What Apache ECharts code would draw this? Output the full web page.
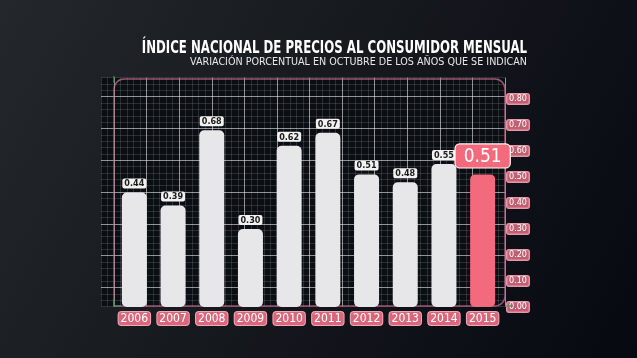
<!DOCTYPE html>
<html><head><meta charset="utf-8">
<script src="https://cdn.jsdelivr.net/npm/echarts@6/dist/echarts.min.js"></script>
<style>html,body{margin:0;padding:0;background:#111;}#c{width:637px;height:358px;}</style>
</head><body><div id="c"></div>
<script>
// ---- data ----
const titleText = 'ÍNDICE NACIONAL DE PRECIOS AL CONSUMIDOR MENSUAL';
const subtitleText = 'VARIACIÓN PORCENTUAL EN OCTUBRE DE LOS AÑOS QUE SE INDICAN';
const years = ['2006','2007','2008','2009','2010','2011','2012','2013','2014','2015'];
const values = [0.44, 0.39, 0.68, 0.30, 0.62, 0.67, 0.51, 0.48, 0.55, 0.51];
const highlightYear = '2015';
const yTickLabels = ['0.00','0.10','0.20','0.30','0.40','0.50','0.60','0.70','0.80'];

// ---- styling ----
const FONT = "'DejaVu Sans Condensed','Liberation Sans Narrow',sans-serif";
const MINOR = 'rgba(255,255,255,0.13)';
const MAJOR = 'rgba(235,235,240,0.6)';
const PINK = '#f46a7d';
const GREEN = '#3c9a5a';
const chart = echarts.init(document.getElementById('c'), null, {renderer: 'canvas'});

const seriesData = values.map((v, i) => {
  if (years[i] !== highlightYear) return v;
  return {
    value: v,
    itemStyle: {color: PINK},
    label: {
      fontSize: 19, fontWeight: 'normal', color: '#fff',
      backgroundColor: PINK, borderColor: '#ffffff', borderWidth: 1.2,
      borderRadius: 4, padding: [3, 8, 1, 8], distance: 7
    }
  };
});

const option = {
  animation: false,
  backgroundColor: {
    type: 'linear', x: 0, y: 0, x2: 1, y2: 1,
    colorStops: [
      {offset: 0, color: '#24272c'},
      {offset: 0.45, color: '#16191e'},
      {offset: 1, color: '#070911'}
    ]
  },
  grid: [
    {left: 101, right: 132, top: 77.6, bottom: 51.4, show: true,
     backgroundColor: '#0b0e13', borderWidth: 0, containLabel: false},
    {left: 115, right: 135, top: 99, bottom: 51, containLabel: false}
  ],
  xAxis: [
    {type: 'value', gridIndex: 0, min: -2, max: 60, interval: 1,
     axisLine: {show: false}, axisTick: {show: false}, axisLabel: {show: false},
     splitLine: {show: true, lineStyle: {width: 1, color: [MINOR, MINOR, MAJOR, MINOR, MINOR]}}},
    {type: 'category', gridIndex: 1, data: years,
     axisLine: {show: false}, axisTick: {show: false},
     axisLabel: {
       margin: 5, color: '#fff', fontFamily: FONT, fontSize: 12,
       backgroundColor: '#d9687d', borderColor: '#f3a6b4', borderWidth: 1,
       borderRadius: 3, padding: [1, 2, 0, 2]
     }}
  ],
  yAxis: [
    {type: 'value', gridIndex: 0, min: -3, max: 33, interval: 1,
     axisLine: {show: false}, axisTick: {show: false}, axisLabel: {show: false},
     splitLine: {show: true, lineStyle: {width: 1, color: [MINOR, MINOR, MINOR, MAJOR, MINOR]}}},
    {type: 'value', gridIndex: 1, position: 'right', min: 0, max: 0.8, interval: 0.1,
     axisLine: {show: false}, axisTick: {show: false}, splitLine: {show: false},
     axisLabel: {
       margin: 5, color: '#fff', fontFamily: FONT, fontSize: 9,
       formatter: (v) => yTickLabels[Math.round(v * 10)],
       backgroundColor: 'rgba(222,110,132,0.85)', borderColor: 'rgba(245,170,185,0.9)',
       borderWidth: 1, borderRadius: 2, padding: [1, 2, 0, 2]
     }}
  ],
  graphic: [
    {type: 'rect', z: 1, silent: true,
     shape: {x: 114, y: 79, width: 391, height: 227, r: [10, 10, 10, 0]},
     style: {fill: null, stroke: 'rgba(200,110,140,0.75)', lineWidth: 1.5}},
    {type: 'line', z: 1, silent: true, shape: {x1: 505, y1: 306, x2: 513, y2: 306},
     style: {stroke: GREEN, lineWidth: 1.2}},
    {type: 'polyline', z: 1, silent: true, shape: {points: [[114, 299], [114, 306], [121, 306]]},
     style: {stroke: GREEN, lineWidth: 1.2, fill: null}},
    {type: 'line', z: 1, silent: true, shape: {x1: 114, y1: 76, x2: 114, y2: 83},
     style: {stroke: GREEN, lineWidth: 1.2}},
    {type: 'text', z: 10, x: 527, y: 57.5, scaleX: 0.77, originX: 0,
     style: {text: titleText, align: 'right', verticalAlign: 'bottom',
             font: "bold 17px " + FONT, fill: '#ffffff'}},
    {type: 'text', z: 10, x: 527, y: 67.5, scaleX: 0.97, originX: 0,
     style: {text: subtitleText, align: 'right', verticalAlign: 'bottom',
             font: "11px " + FONT, fill: '#e8e8e8'}}
  ],
  series: [{
    type: 'bar', xAxisIndex: 1, yAxisIndex: 1,
    data: seriesData, barWidth: 25,
    itemStyle: {color: '#e7e7e9', borderRadius: 5},
    label: {
      show: true, position: 'top', distance: 4,
      formatter: (p) => p.value.toFixed(2),
      fontFamily: FONT, fontSize: 9, fontWeight: 'bold', color: '#1b1b1b',
      backgroundColor: '#f2f2f2', borderRadius: 2, padding: [1, 2, 0, 2]
    }
  }]
};
chart.setOption(option);
</script></body></html>
